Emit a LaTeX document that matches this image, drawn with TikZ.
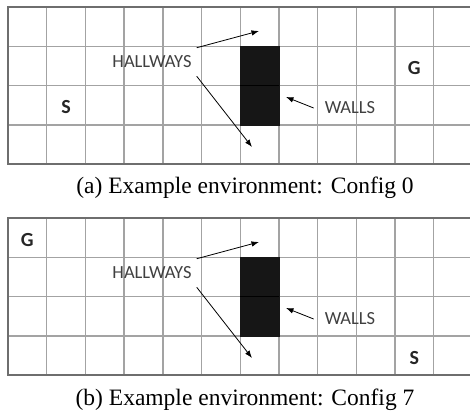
\documentclass[tikz,border=0pt]{standalone}
\usepackage{fontspec}
\setmainfont{Liberation Serif}
\newfontfamily\signfont{Carlito}
\usetikzlibrary{arrows.meta, calc}

\definecolor{gridgray}{HTML}{A3A3A3}
\definecolor{edgegray}{HTML}{6E6E6E}
\definecolor{signgray}{HTML}{404040}
\definecolor{wallgray}{HTML}{161616}

\begin{document}
\begin{tikzpicture} [x=1pt, y=-1pt,
	gridline/.style={draw=gridgray, line width=1.4pt},
	edgeline/.style={draw=edgegray, line width=2.4pt},
	wall/.style={fill=wallgray, draw=wallgray, line width=1.4pt},
	sign/.style={text=signgray, font=\signfont\fontsize{18.5}{18.5}\selectfont, inner xsep=5pt, inner ysep=8pt},
	cellmark/.style={text=black!85, font=\signfont\bfseries\fontsize{20}{20}\selectfont},
	pointer/.style={-{Latex[length=7.5pt, width=5.5pt]}, line width=0.8pt},
	caption/.style={anchor=base, font=\fontsize{23.5}{26}\selectfont}]
	% cell size of the grid
	\def\cw{38.7}
	\def\rh{39.3}
	\useasboundingbox (0,0) rectangle (470,419);
	\clip (0,0) rectangle (470,419);
	
	% config / top of grid / G cell / S cell / caption letter
	\foreach \cfg/\oy/\gc/\gr/\sc/\sr/\lbl in {0/7/10/1/1/2/a, 7/218/0/0/10/3/b}{
		\begin{scope}[shift={(8,\oy)}]
			\foreach \i in {1,...,11}
				\draw[gridline] (\i*\cw,0) -- (\i*\cw,4*\rh);
			\foreach \j in {1,2,3}
				\draw[gridline] (0,\j*\rh) -- (470,\j*\rh);
			\draw[wall] (6*\cw,\rh) rectangle (7*\cw,3*\rh);
			\draw[black, line width=1pt] (6*\cw,2*\rh) -- (7*\cw,2*\rh);
			\draw[edgeline] (470,0) -- (0,0) -- (0,4*\rh) -- (470,4*\rh);
			
			\node[cellmark] (goal\cfg) at ({(\gc+0.5)*\cw},{(\gr+0.5)*\rh+2}) {G};
			\node[cellmark] (start\cfg) at ({(\sc+0.5)*\cw},{(\sr+0.5)*\rh+2}) {S};
			
			\node[sign] (hall\cfg) at (144,55) {HALLWAYS};
			\node[sign, inner xsep=11pt] (walls\cfg) at (342,101) {WALLS};
			\coordinate (upper\cfg) at (251,24);
			\coordinate (lower\cfg) at (244,140);
			\coordinate (block\cfg) at (278,90);
			
			\draw[pointer] (hall\cfg.north east) -- (upper\cfg);
			\draw[pointer] (hall\cfg.south east) -- (lower\cfg);
			\draw[pointer] (walls\cfg.west) -- (block\cfg);
			
			\node[caption] (cap\cfg) at (237,187) {(\lbl) Example environment: Config \cfg};
		\end{scope}
	}
	
\end{tikzpicture}
\end{document}
